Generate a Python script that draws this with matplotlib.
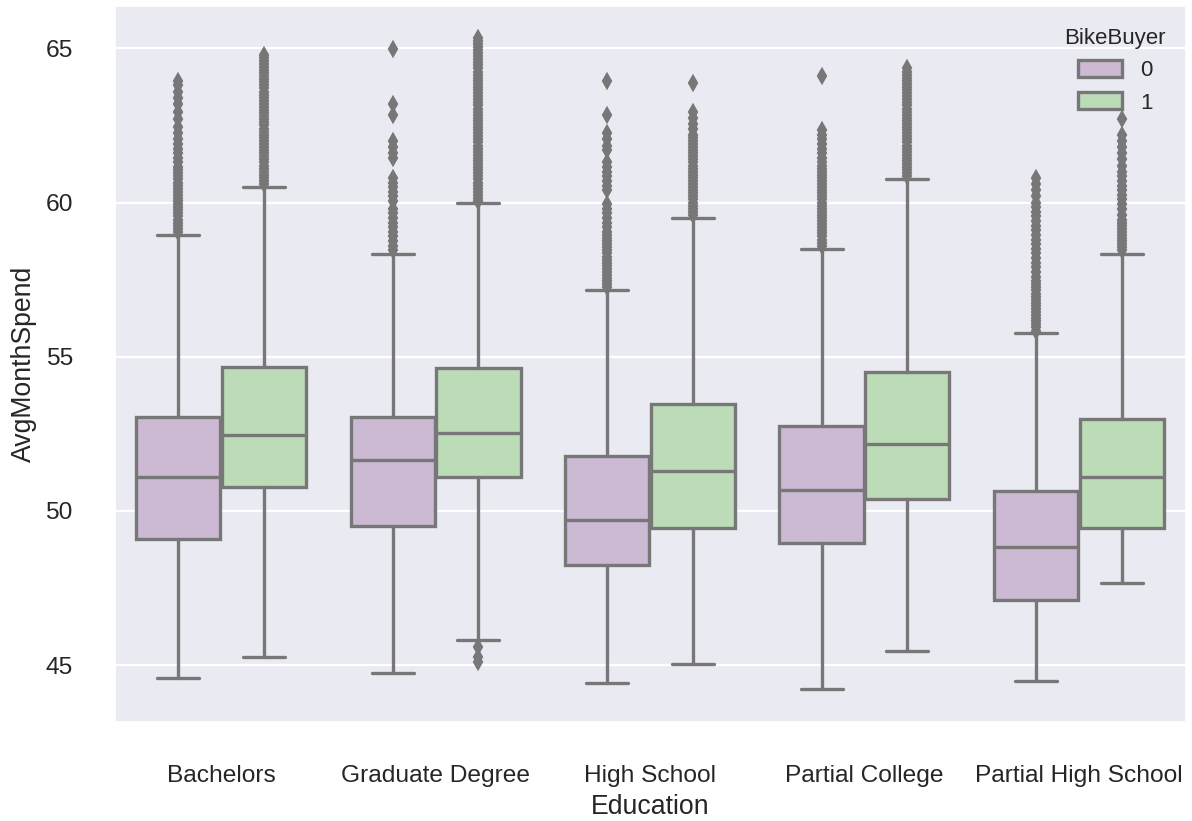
import matplotlib
matplotlib.use("Agg")
import matplotlib.pyplot as plt
from matplotlib.patches import Patch
import seaborn as sns

# box statistics
education = ["Bachelors", "Graduate Degree", "High School", "Partial College", "Partial High School"]
buyer_levels = ["0", "1"]

q1_0 = [49.10, 49.51, 48.25, 48.95, 47.11]
med_0 = [51.10, 51.64, 49.72, 50.68, 48.84]
q3_0 = [53.06, 53.06, 51.78, 52.76, 50.65]
lo_0 = [44.58, 44.73, 44.42, 44.21, 44.48]
hi_0 = [58.96, 58.33, 57.15, 58.49, 55.76]

q1_1 = [50.78, 51.10, 49.46, 50.39, 49.43]
med_1 = [52.45, 52.52, 51.30, 52.16, 51.10]
q3_1 = [54.66, 54.63, 53.46, 54.51, 52.99]
lo_1 = [45.27, 45.82, 45.05, 45.47, 47.67]
hi_1 = [60.51, 59.97, 59.50, 60.75, 58.33]

fliers_bach_0 = [59.05, 59.15, 59.25, 59.35, 59.45, 59.55, 59.65, 59.75, 59.85, 59.95,
                 60.05, 60.15, 60.25, 60.35, 60.45, 60.55, 60.65, 60.75, 60.85, 60.95,
                 61.05, 61.15, 61.3, 61.45, 61.6, 61.75, 61.9, 62.05, 62.25, 62.45,
                 62.7, 62.95, 63.2, 63.4, 63.6, 63.8, 63.95]
fliers_bach_1 = [60.6, 60.7, 60.8, 60.9, 61.0, 61.1, 61.2, 61.3, 61.4, 61.5,
                 61.6, 61.7, 61.8, 61.9, 62.0, 62.1, 62.2, 62.3, 62.4, 62.5,
                 62.6, 62.7, 62.8, 62.9, 63.0, 63.1, 63.2, 63.3, 63.4, 63.5,
                 63.6, 63.7, 63.8, 63.9, 64.0, 64.1, 64.2, 64.3, 64.4, 64.5,
                 64.6, 64.7, 64.78]
fliers_grad_0 = [58.45, 58.6, 58.75, 58.9, 59.05, 59.2, 59.35, 59.5, 59.65, 59.8,
                 60.05, 60.2, 60.35, 60.5, 60.65, 60.8, 61.45, 61.6, 61.8, 62.0,
                 62.85, 63.2, 64.98]
fliers_grad_1 = [45.1, 45.25, 45.6,
                 60.05, 60.15, 60.25, 60.35, 60.45, 60.55, 60.65, 60.75, 60.85, 60.95,
                 61.05, 61.15, 61.25, 61.35, 61.45, 61.55, 61.65, 61.75, 61.85, 61.95,
                 62.05, 62.15, 62.25, 62.35, 62.45, 62.55, 62.65, 62.75, 62.85, 62.95,
                 63.05, 63.15, 63.25, 63.35, 63.45, 63.55, 63.65, 63.75, 63.85, 63.95,
                 64.05, 64.15, 64.25, 64.35, 64.45, 64.55, 64.65, 64.75, 64.85, 64.95,
                 65.05, 65.15, 65.25, 65.35]
fliers_hs_0 = [57.25, 57.35, 57.45, 57.55, 57.65, 57.75, 57.85, 57.95, 58.05, 58.15,
               58.25, 58.35, 58.45, 58.55, 58.65, 58.75, 58.85, 58.95, 59.05, 59.2,
               59.35, 59.5, 59.65, 59.8, 59.95, 60.4, 60.55, 60.7, 60.85, 61.0,
               61.15, 61.3, 61.7, 61.85, 62.05, 62.25, 62.85, 63.95]
fliers_hs_1 = [59.6, 59.7, 59.8, 59.9, 60.0, 60.1, 60.2, 60.3, 60.4, 60.5,
               60.6, 60.7, 60.8, 60.9, 61.0, 61.1, 61.2, 61.3, 61.4, 61.5,
               61.6, 61.7, 61.8, 61.9, 62.0, 62.1, 62.2, 62.4, 62.55, 62.75,
               62.95, 63.87]
fliers_pc_0 = [58.6, 58.7, 58.8, 58.9, 59.0, 59.1, 59.2, 59.3, 59.4, 59.5,
               59.6, 59.7, 59.8, 59.9, 60.0, 60.1, 60.2, 60.3, 60.4, 60.5,
               60.6, 60.7, 60.8, 60.9, 61.0, 61.1, 61.2, 61.3, 61.45, 61.6,
               61.75, 61.9, 62.05, 62.2, 62.35, 64.1]
fliers_pc_1 = [60.85, 60.95, 61.05, 61.15, 61.25, 61.35, 61.45, 61.55, 61.65, 61.75,
               61.85, 61.95, 62.05, 62.15, 62.25, 62.35, 62.45, 62.55, 62.65, 62.75,
               62.85, 62.95, 63.05, 63.15, 63.25, 63.35, 63.45, 63.55, 63.65, 63.75,
               63.85, 63.95, 64.05, 64.15, 64.25, 64.35]
fliers_phs_0 = [55.85, 55.95, 56.05, 56.15, 56.25, 56.35, 56.45, 56.55, 56.65, 56.75,
                56.85, 56.95, 57.05, 57.15, 57.25, 57.35, 57.45, 57.6, 57.75, 57.9,
                58.05, 58.2, 58.35, 58.5, 58.65, 58.8, 58.95, 59.1, 59.25, 59.4,
                59.55, 59.7, 59.85, 60.0, 60.2, 60.4, 60.6, 60.8]
fliers_phs_1 = [58.45, 58.55, 58.65, 58.75, 58.85, 58.95, 59.05, 59.15, 59.25, 59.35,
                59.45, 59.6, 59.8, 59.95, 60.1, 60.25, 60.4, 60.55, 60.7, 60.85,
                61.0, 61.2, 61.4, 61.6, 61.8, 62.0, 62.2, 62.7]

fliers_0 = [fliers_bach_0, fliers_grad_0, fliers_hs_0, fliers_pc_0, fliers_phs_0]
fliers_1 = [fliers_bach_1, fliers_grad_1, fliers_hs_1, fliers_pc_1, fliers_phs_1]

colors = ["#ccb9d3", "#bcdcb7"]
gray = "#777777"


def make_stats(q1, med, q3, lo, hi, fl):
    return [dict(q1=a, med=b, q3=c, whislo=d, whishi=e, fliers=f)
            for a, b, c, d, e, f in zip(q1, med, q3, lo, hi, fl)]


def main():
    sns.set_theme(style="darkgrid")
    plt.rcParams["font.family"] = ["Liberation Sans", "DejaVu Sans"]

    fig = plt.figure(figsize=(1192 / 160, 821 / 160), dpi=160)
    ax = fig.add_axes([114 / 1192, 1 - 722 / 821, 1072 / 1192, 717 / 821])

    groups = [make_stats(q1_0, med_0, q3_0, lo_0, hi_0, fliers_0),
              make_stats(q1_1, med_1, q3_1, lo_1, hi_1, fliers_1)]
    offsets = [-0.2, 0.2]
    for stats, off, col in zip(groups, offsets, colors):
        pos = [i + off for i in range(len(education))]
        ax.bxp(stats, positions=pos, widths=0.392, patch_artist=True,
               manage_ticks=False,
               boxprops=dict(facecolor=col, edgecolor=gray, linewidth=1.5),
               medianprops=dict(color=gray, linewidth=1.5),
               whiskerprops=dict(color=gray, linewidth=1.5),
               capprops=dict(color=gray, linewidth=1.5),
               flierprops=dict(marker="d", markersize=4.5, markerfacecolor=gray,
                               markeredgecolor=gray, linestyle="none"))

    ax.set_xlim(-0.5, len(education) - 0.5)
    ax.set_xticks(range(len(education)))
    ax.set_xticklabels(education)
    ax.set_yticks([45, 50, 55, 60, 65])
    ax.xaxis.grid(False)
    ax.tick_params(axis="both", labelsize=11, colors=".15")
    ax.tick_params(axis="x", pad=13.5)
    ax.tick_params(axis="y", pad=12.5)
    ax.set_xlabel("Education", fontsize=12, color=".15", labelpad=3)
    ax.set_ylabel("AvgMonthSpend", fontsize=12, color=".15", labelpad=4)

    handles = [Patch(facecolor=c, edgecolor=gray, linewidth=1.5) for c in colors]
    ax.legend(handles, buyer_levels, title="BikeBuyer", loc="upper right",
              bbox_to_anchor=(1.0, 0.996), frameon=False, fontsize=10,
              title_fontsize=10, labelspacing=0.5, handleheight=0.8)

    fig.savefig("out.png", dpi=160)


if __name__ == "__main__":
    main()
